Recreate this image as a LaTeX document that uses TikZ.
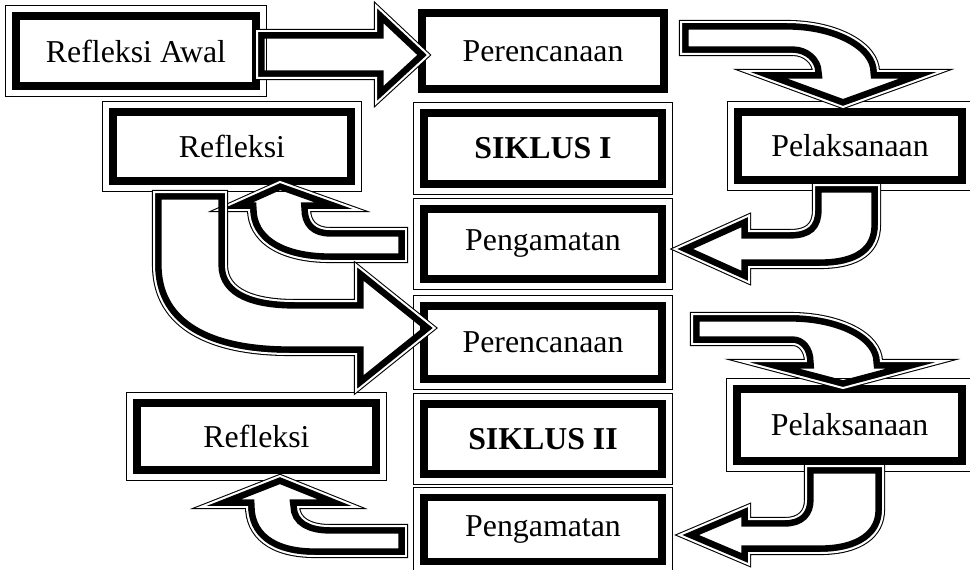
\documentclass[tikz,border=0pt]{standalone}
\usepackage{fontspec}
\setmainfont{Liberation Serif}

\tikzset{
  kotak/.style={draw, line width=2.9pt, inner sep=0pt, font=\fontsize{12}{14}\selectfont},
  garis tipis/.style={line width=0.4pt},
}
% block arrow: thick band inside, thin line outside
\newcommand{\panahblok}[1]{%
  \begin{scope}
    \clip #1;
    \draw[line width=5pt] #1;
  \end{scope}
  \begin{scope}[even odd rule]
    \clip (-20,-20) rectangle (990,589) #1;
    \draw[line width=2.3pt] #1;
    \draw[white,line width=1.5pt] #1;
  \end{scope}}

\begin{document}
\begin{tikzpicture}[x=0.377pt,y=-0.377pt]
\useasboundingbox (0,0) rectangle (970,569);

\node[kotak,minimum width=90.5pt,minimum height=26.4pt] (awal) at (136,51) {Refleksi Awal};
\node[kotak,minimum width=91.2pt,minimum height=28.7pt] (renc1) at (543,51) {Perencanaan};
\node[kotak,minimum width=89.7pt,minimum height=26.8pt] (siklus1) at (543,148.5) {\textbf{SIKLUS I}};
\node[kotak,minimum width=89.7pt,minimum height=26.4pt] (amat1) at (543,244) {Pengamatan};
\node[kotak,minimum width=89.7pt,minimum height=27.5pt] (renc2) at (543,342.5) {Perencanaan};
\node[kotak,minimum width=89.7pt,minimum height=26.4pt] (siklus2) at (543,439) {\textbf{SIKLUS II}};
\node[kotak,minimum width=89.7pt,minimum height=24.1pt] (amat2) at (543,529.5) {Pengamatan};
\node[kotak,minimum width=84.4pt,minimum height=25.6pt] (laks1) at (850,146) {Pelaksanaan};
\node[kotak,minimum width=85.0pt,minimum height=27.1pt] (laks2) at (849.5,425) {Pelaksanaan};
\node[kotak,minimum width=89.7pt,minimum height=26.0pt] (refl1) at (232,146.5) {Refleksi};
\node[kotak,minimum width=90.1pt,minimum height=25.3pt] (refl2) at (256.5,436.5) {Refleksi};

\foreach \n in {awal,siklus1,amat1,renc2,siklus2,amat2,laks1,laks2,refl1,refl2}
  \draw[garis tipis] ([shift={(-6.5,-6.5)}]\n.north west) rectangle ([shift={(6.5,6.5)}]\n.south east);
\draw[garis tipis] ([shift={(6.5,6.5)}]renc1.north west) rectangle ([shift={(-6.5,-6.5)}]renc1.south east);

% siklus I
\panahblok{(258,32) -- (377,32) -- (377,8) -- (427,55) -- (377,101) -- (377,77) -- (258,77) -- cycle}
\panahblok{(682,23) -- (787,23) .. controls (837,23) and (877,45) .. (877,72) -- (937,72) -- (843,106) -- (750,72) -- (815,72) .. controls (815,62) and (805,53) .. (793,53) -- (682,53) -- cycle}
\panahblok{(815,186) -- (878,186) -- (878,225) .. controls (878,250) and (860,266) .. (820,266) -- (748,266) -- (748,281) -- (677,249) -- (748,217) -- (748,232) -- (790,232) .. controls (808,232) and (815,225) .. (815,210) -- cycle}
\panahblok{(405,230) -- (330,230) .. controls (315,230) and (308,222) .. (308,209) -- (353,209) -- (280,183) -- (222,209) -- (250,209) .. controls (250,240) and (280,260) .. (330,260) -- (405,260) -- cycle}
\panahblok{(155,193) -- (225,193) -- (225,265) .. controls (225,292) and (255,302) .. (295,302) -- (357,302) -- (357,267) -- (433,328) -- (357,389) -- (357,353) -- (290,353) .. controls (200,353) and (155,320) .. (155,265) -- cycle}
% siklus II
\panahblok{(693,315) -- (790,315) .. controls (840,315) and (880,335) .. (880,362) -- (937,362) -- (843,387) -- (748,362) -- (807,362) .. controls (807,350) and (800,343) .. (793,343) -- (693,343) -- cycle}
\panahblok{(807,467) -- (882,467) -- (882,510) .. controls (882,535) and (860,552) .. (820,552) -- (748,552) -- (748,563) -- (682,535) -- (748,507) -- (748,520) -- (785,520) .. controls (800,520) and (807,512) .. (807,500) -- cycle}
\panahblok{(405,527) -- (330,527) .. controls (310,527) and (297,520) .. (297,506) -- (352,506) -- (280,477) -- (206,506) -- (248,506) .. controls (248,535) and (270,555) .. (315,555) -- (405,555) -- cycle}

\end{tikzpicture}
\end{document}
